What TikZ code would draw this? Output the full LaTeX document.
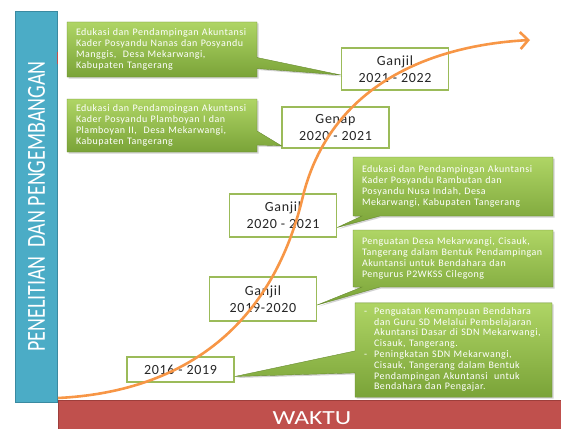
\documentclass[tikz,border=0pt]{standalone}
\usepackage{fontspec}
\setmainfont{Carlito}
\newfontfamily\spaced[LetterSpace=5]{Carlito}
\usepackage{tikz}
\usetikzlibrary{arrows.meta,positioning,shapes.callouts,shadows,calc}
\definecolor{riset}{HTML}{4BACC6}
\definecolor{risetdark}{HTML}{3A8AA1}
\definecolor{waktu}{HTML}{C0504D}
\definecolor{waktudark}{HTML}{9E3E3B}
\definecolor{daun}{HTML}{9BBB59}
\definecolor{dauntop}{HTML}{AFD565}
\definecolor{daunbot}{HTML}{7AA338}
\definecolor{jalur}{HTML}{F79646}

\begin{document}
\begin{tikzpicture}[x=1pt,y=-1pt,
  periode/.style={draw=daun, line width=1.4pt, fill=white, align=center, text=black!85,
    font=\spaced\fontsize{14}{17}\selectfont, minimum width=107pt, inner sep=2pt},
  kegiatan/.style={rectangle callout, draw=daunbot!85!black, line width=0.4pt,
    top color=dauntop, bottom color=daunbot, text=white, align=left,
    font=\spaced\fontsize{10}{10.8}\selectfont, inner xsep=9pt, inner ysep=4pt,
    callout pointer width=18pt,
    drop shadow={opacity=0.35, shadow xshift=1.5pt, shadow yshift=-1.5pt}}]
  \useasboundingbox (0,0) rectangle (561,428);

  \node[fill=riset, draw=risetdark, line width=1pt, minimum width=42pt, minimum height=390pt] (sumbu) at (36,207) {};
  \node[rotate=90, text=white, font=\fontsize{20}{24}\selectfont] (judul) at (36.5,206.5) {\scalebox{1}[1.3]{PENELITIAN\ \ DAN PENGEMBANGAN}};
  \node[fill=waktu, draw=waktudark, line width=0.6pt, minimum width=505pt, minimum height=30pt, anchor=north west, inner sep=0pt] (dasar) at (58,400) {};
  \node[text=white, inner sep=0pt, font=\fontsize{20}{24}\selectfont] (waktutxt) at (312,418) {\scalebox{1.28}[1]{WAKTU}};
  \draw[waktu, line width=1.2pt] (57.5,52) -- (57.5,64);

  \node[periode, minimum height=25pt] (p1) at (180.5,369.5) {2016 - 2019};
  \node[periode, minimum height=44pt] (p2) at (263,299) {Ganjil\\2019-2020};
  \node[periode, minimum height=43pt] (p3) at (283,215.5) {Ganjil\\2020 - 2021};
  \node[periode, minimum height=41pt] (p4) at (335.5,127.5) {Genap\\2020 - 2021};
  \node[periode, minimum height=42pt] (p5) at (395,69) {Ganjil\\2021 - 2022};

  \coordinate (u1) at ($(p1.east)+(0,7)$);
  \coordinate (u2) at ($(p2.east)+(0,6)$);
  \coordinate (u3) at ($(p3.east)+(0,12)$);
  \coordinate (u4) at ($(p4.south west)+(0,-3)$);
  \coordinate (u5) at ($(p5.west)+(0,6)$);

  \node[kegiatan, minimum width=190pt, minimum height=55pt, text width=172pt, callout pointer width=11pt, callout absolute pointer=(u5)] (k5) at (162,49.5)
    {Edukasi dan Pendampingan Akuntansi\\Kader Posyandu Nanas dan Posyandu\\Manggis,\ \ Desa Mekarwangi,\\Kabupaten Tangerang};
  \node[kegiatan, minimum width=190pt, minimum height=53pt, text width=172pt, callout pointer width=14pt, callout absolute pointer=(u4)] (k4) at (162,125.5)
    {Edukasi dan Pendampingan Akuntansi\\Kader Posyandu Plamboyan I dan\\Plamboyan II,\ \ Desa Mekarwangi,\\Kabupaten Tangerang};
  \node[kegiatan, minimum width=200pt, minimum height=59pt, text width=182pt, callout absolute pointer=(u3)] (k3) at (453,186.5)
    {Edukasi dan Pendampingan Akuntansi\\Kader Posyandu Rambutan dan\\Posyandu Nusa Indah, Desa\\Mekarwangi, Kabupaten Tangerang};
  \node[kegiatan, minimum width=200pt, minimum height=57pt, text width=182pt, callout absolute pointer=(u2)] (k2) at (453,258.5)
    {Penguatan Desa Mekarwangi, Cisauk,\\Tangerang dalam Bentuk Pendampingan\\Akuntansi untuk Bendahara dan\\Pengurus P2WKSS Cilegong};
  \node[kegiatan, minimum width=197pt, minimum height=94pt, text width=179pt, callout pointer width=22pt, callout absolute pointer=(u1)] (k1) at (453.5,350)
    {\begin{tabular}{@{}l@{\hspace{7pt}}l@{}}
      - & Penguatan Kemampuan Bendahara\\
        & dan Guru SD Melalui Pembelajaran\\
        & Akuntansi Dasar di SDN Mekarwangi,\\
        & Cisauk, Tangerang.\\
      - & Peningkatan SDN Mekarwangi,\\
        & Cisauk, Tangerang dalam Bentuk\\
        & Pendampingan Akuntansi\ \ untuk\\
        & Bendahara dan Pengajar.
    \end{tabular}};

  \coordinate (awal) at (58,398);
  \coordinate (akhir) at (530,40);
  \draw[jalur, line width=2.6pt, -{Straight Barb[length=8pt, width=17pt]}]
    (awal) .. controls (180,392) and (270,330) .. (302,200)
    .. controls (327,92) and (420,46) .. (akhir);
\end{tikzpicture}
\end{document}
